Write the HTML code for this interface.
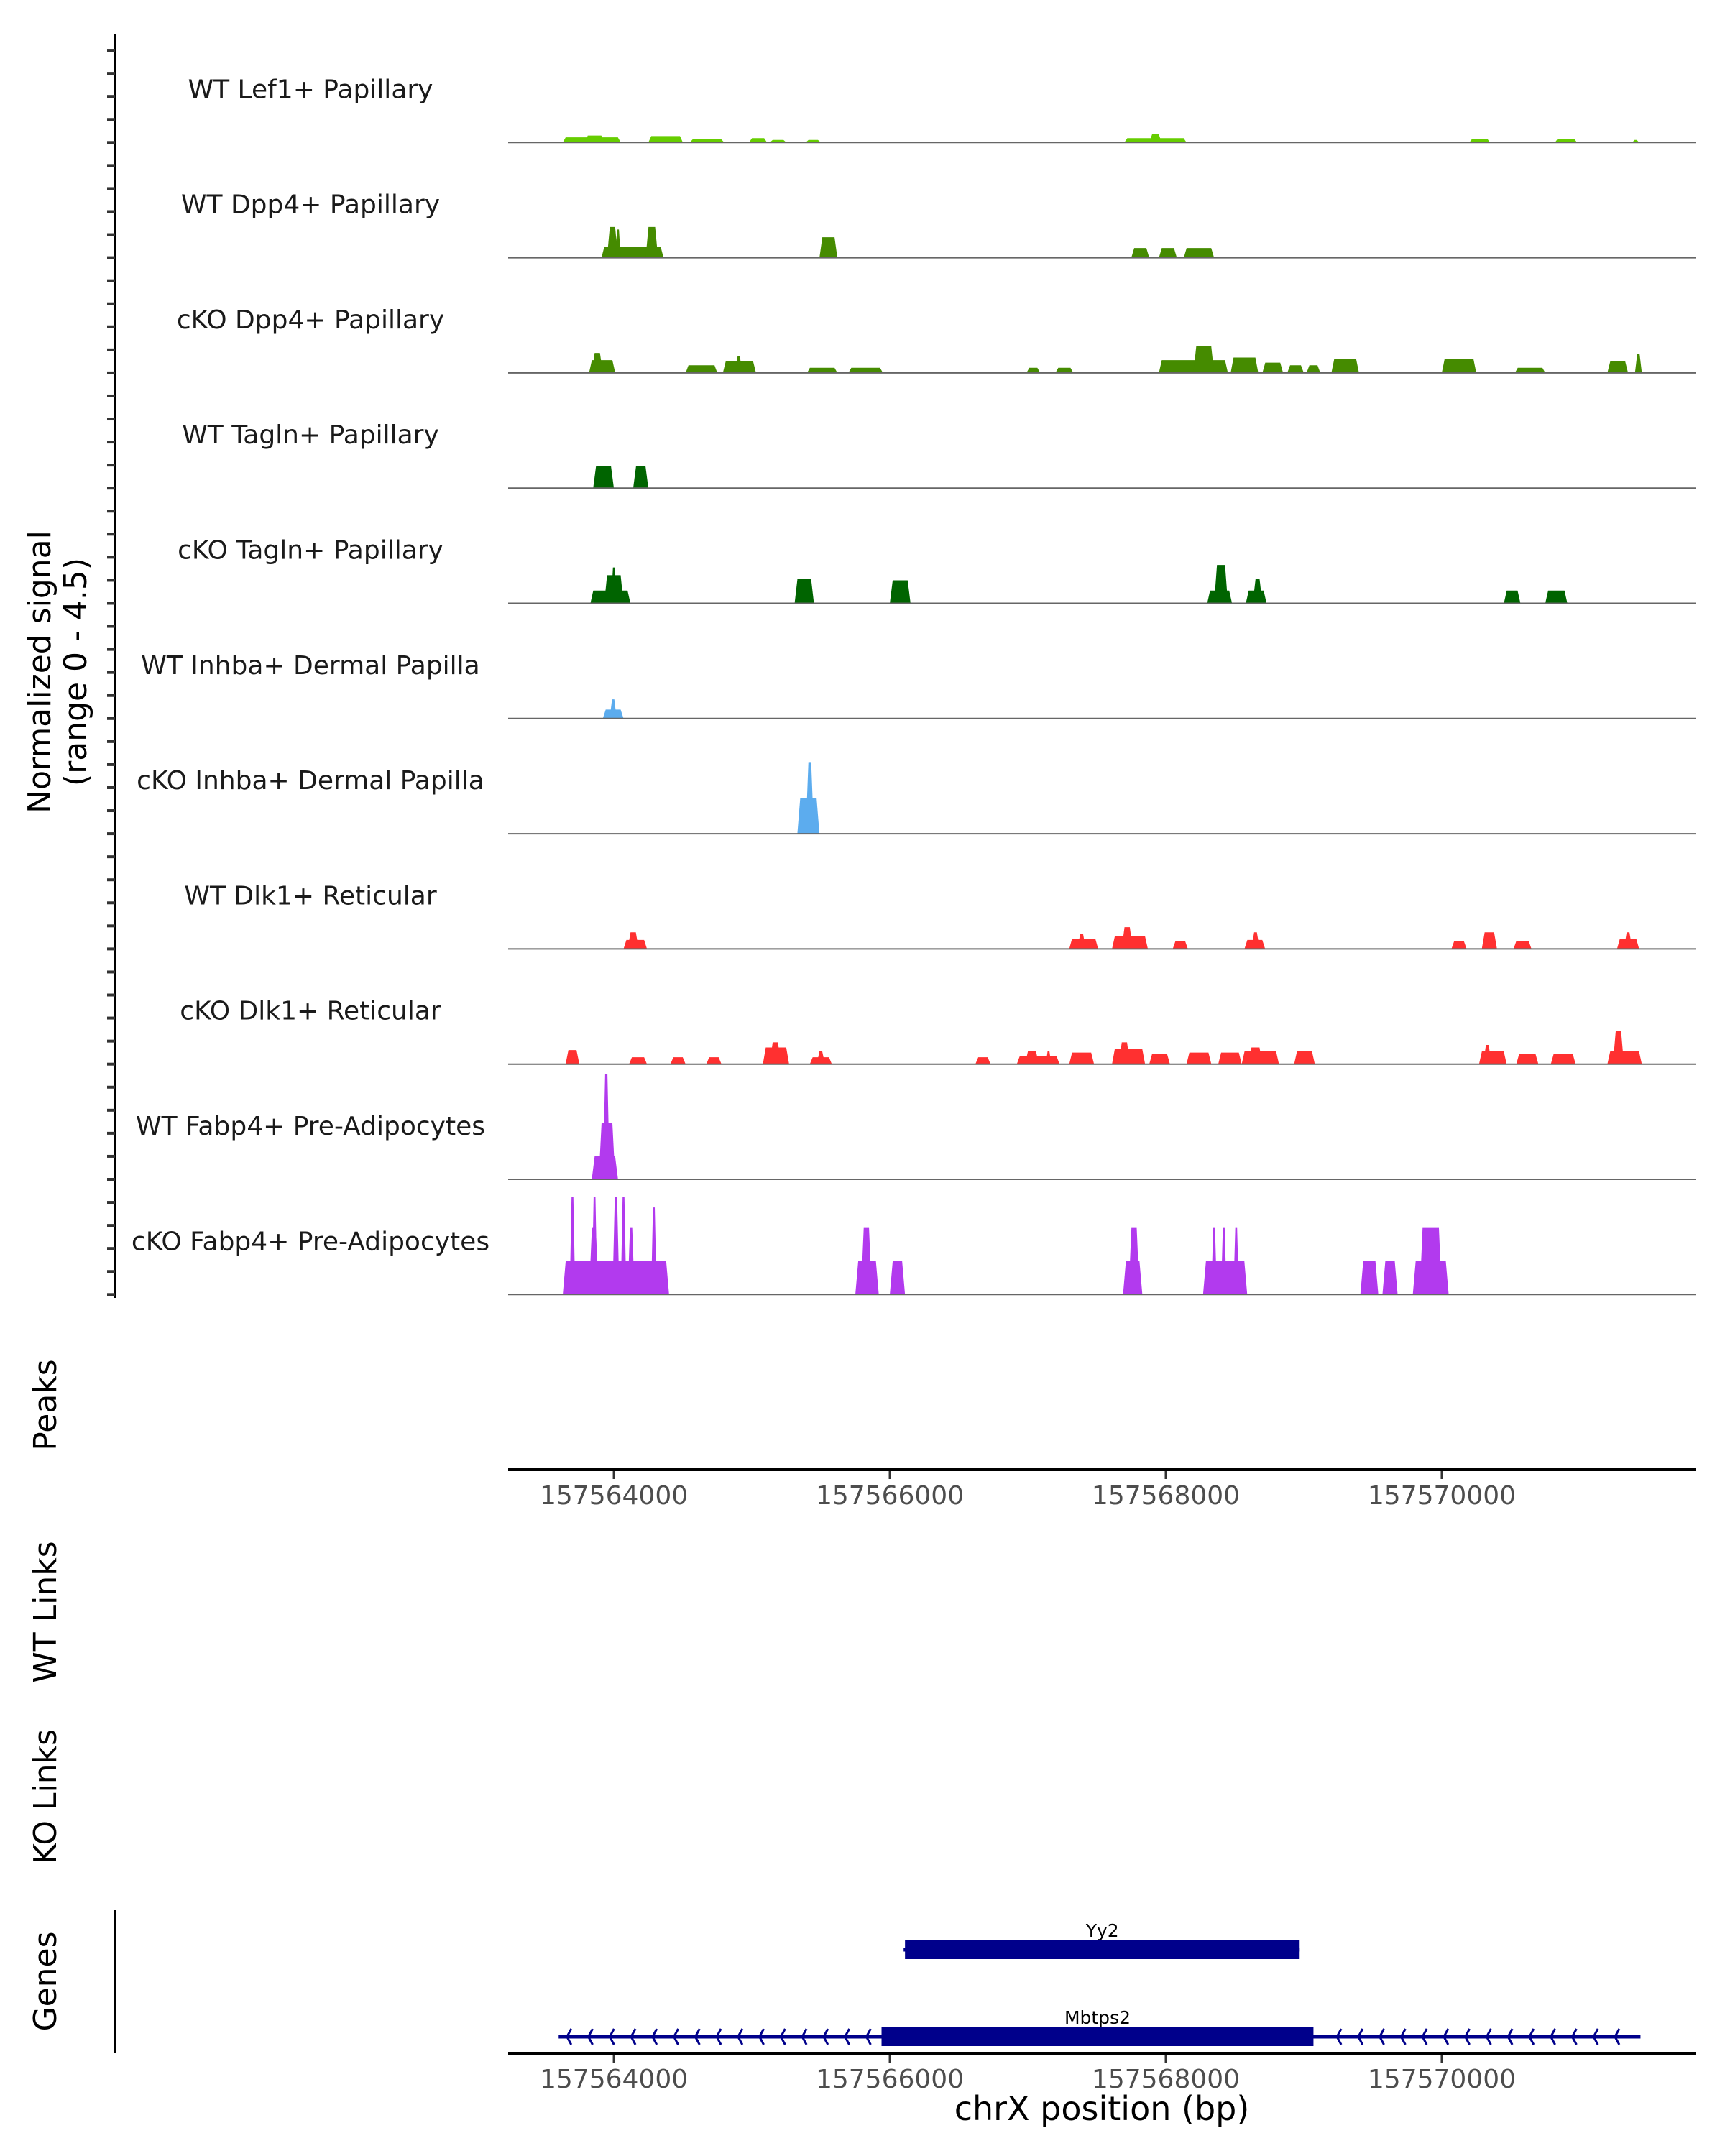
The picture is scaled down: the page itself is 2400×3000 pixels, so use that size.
<!DOCTYPE html>
<html><head><meta charset="utf-8">
<style>
html,body{margin:0;padding:0;background:#fff;}
svg{display:block;font-family:"DejaVu Sans","Liberation Sans",sans-serif;}
</style></head>
<body>
<svg id="chart" width="2400" height="3000" viewBox="0 0 2400 3000" xmlns="http://www.w3.org/2000/svg">
<rect x="0" y="0" width="2400" height="3000" fill="#fff"/>
<g id="tracks"></g>
<line x1="160" y1="48" x2="160" y2="1806" stroke="#000" stroke-width="4"/>
<g id="yticks"></g>
<text transform="translate(78,935) rotate(-90)" text-anchor="middle" font-size="44" fill="#000"><tspan x="0" dy="-8">Normalized signal</tspan><tspan x="0" dy="50">(range 0 - 4.5)</tspan></text>
<text transform="translate(78,1955) rotate(-90)" text-anchor="middle" font-size="44">Peaks</text>
<line x1="707" y1="2045" x2="2360" y2="2045" stroke="#000" stroke-width="4"/>
<g id="xticks1"></g>
<text transform="translate(78,2243) rotate(-90)" text-anchor="middle" font-size="44">WT Links</text>
<text transform="translate(78,2500) rotate(-90)" text-anchor="middle" font-size="44">KO Links</text>
<text transform="translate(78,2757) rotate(-90)" text-anchor="middle" font-size="44">Genes</text>
<line x1="160" y1="2658" x2="160" y2="2857" stroke="#000" stroke-width="4"/>
<g id="genes"></g>
<line x1="707" y1="2857" x2="2360" y2="2857" stroke="#000" stroke-width="4"/>
<g id="xticks2"></g>
<text x="1533" y="2950" text-anchor="middle" font-size="46">chrX position (bp)</text>
</svg>
<script>
const trackNames = ["WT Lef1+ Papillary","WT Dpp4+ Papillary","cKO Dpp4+ Papillary","WT Tagln+ Papillary","cKO Tagln+ Papillary","WT Inhba+ Dermal Papilla","cKO Inhba+ Dermal Papilla","WT Dlk1+ Reticular","cKO Dlk1+ Reticular","WT Fabp4+ Pre-Adipocytes","cKO Fabp4+ Pre-Adipocytes"];
const trackColors = ["#66cd00","#458b00","#458b00","#006400","#006400","#5cacee","#5cacee","#ff3030","#ff3030","#b23aee","#b23aee"];
const xTicks = [157564000,157566000,157568000,157570000];
const xDomain = [157563234,157571844];
const yMax = 4.5;
// segments per track: [start bp, end bp, signal]
const sig0 = [[157563630,157564050,0.2],[157563790,157563930,0.27],[157564250,157564500,0.25],[157564550,157564800,0.12],[157564980,157565110,0.17],[157565130,157565250,0.1],[157565390,157565500,0.1],[157567700,157568150,0.17],[157567880,157567970,0.32],[157570200,157570350,0.15],[157570820,157570980,0.15],[157571380,157571430,0.1]];
const sig1 = [[157563910,157564360,0.43],[157563950,157564030,1.2],[157564010,157564050,1.1],[157564230,157564320,1.2],[157565490,157565620,0.8],[157567750,157567880,0.38],[157567950,157568080,0.38],[157568130,157568350,0.38]];
const sig2 = [[157563820,157564010,0.5],[157563840,157563920,0.78],[157564520,157564750,0.3],[157564790,157565030,0.45],[157564880,157564930,0.65],[157565400,157565620,0.2],[157565700,157565950,0.2],[157566990,157567090,0.2],[157567200,157567330,0.2],[157567950,157568450,0.5],[157568200,157568350,1.05],[157568470,157568670,0.6],[157568700,157568850,0.4],[157568880,157569000,0.3],[157569020,157569120,0.3],[157569200,157569400,0.55],[157570000,157570250,0.55],[157570530,157570750,0.2],[157571200,157571350,0.45],[157571400,157571450,0.75]];
const sig3 = [[157563850,157564000,0.86],[157564140,157564250,0.86]];
const sig4 = [[157563830,157564120,0.5],[157563930,157564070,1.1],[157563980,157564020,1.4],[157565310,157565450,0.97],[157566000,157566150,0.9],[157566020,157566130,0.5],[157568300,157568480,0.5],[157568350,157568450,1.5],[157568580,157568730,0.5],[157568630,157568700,0.97],[157570450,157570570,0.5],[157570750,157570910,0.5]];
const sig5 = [[157563920,157564070,0.35],[157563970,157564020,0.75]];
const sig6 = [[157565330,157565490,1.4],[157565390,157565450,2.8]];
const sig7 = [[157564070,157564240,0.35],[157564100,157564180,0.65],[157567300,157567510,0.4],[157567360,157567420,0.6],[157567610,157567870,0.5],[157567680,157567760,0.85],[157568050,157568160,0.32],[157568570,157568720,0.35],[157568620,157568680,0.65],[157570070,157570180,0.32],[157570290,157570400,0.65],[157570520,157570650,0.32],[157571270,157571430,0.4],[157571320,157571380,0.65]];
const sig8 = [[157563650,157563750,0.55],[157564110,157564240,0.27],[157564410,157564520,0.27],[157564670,157564780,0.27],[157565080,157565270,0.65],[157565130,157565210,0.85],[157565420,157565580,0.27],[157565470,157565530,0.5],[157566620,157566730,0.27],[157566920,157567230,0.3],[157566980,157567080,0.5],[157567130,157567170,0.5],[157567300,157567480,0.45],[157567610,157567850,0.6],[157567660,157567740,0.85],[157567880,157568030,0.4],[157568150,157568330,0.45],[157568380,157568550,0.45],[157568550,157568820,0.5],[157568600,157568700,0.65],[157568930,157569080,0.5],[157570270,157570470,0.5],[157570300,157570360,0.75],[157570540,157570700,0.4],[157570790,157570970,0.4],[157571200,157571450,0.5],[157571240,157571320,1.3]];
const sig9 = [[157563840,157564030,0.9],[157563890,157564010,2.2],[157563920,157563970,4.1]];
const sig10 = [[157563630,157564400,1.3],[157563680,157563720,3.8],[157563820,157563890,2.6],[157563840,157563880,3.8],[157563990,157564040,3.8],[157564050,157564090,3.8],[157564100,157564150,2.6],[157564270,157564310,3.4],[157565750,157565920,1.3],[157565790,157565870,2.6],[157566000,157566110,1.3],[157567690,157567830,1.3],[157567730,157567810,2.6],[157568270,157568590,1.3],[157568330,157568370,2.6],[157568400,157568440,2.6],[157568490,157568530,2.6],[157569410,157569540,1.3],[157569570,157569680,1.3],[157569790,157570050,1.3],[157569840,157570000,2.6]];
const signals = [sig0,sig1,sig2,sig3,sig4,sig5,sig6,sig7,sig8,sig9,sig10];
const geneNames = ["Yy2","Mbtps2"];
const geneStarts = [157566100,157563600];
const geneEnds = [157568970,157571440];
const geneExonStarts = [157566110,157565940];
const geneExonEnds = [157568970,157569070];

const NS="http://www.w3.org/2000/svg";
const X0=707, X1=2360, TOP=38, TH=160.3;
function xs(bp){return X0+(bp-xDomain[0])/(xDomain[1]-xDomain[0])*(X1-X0);}
function mk(tag,attrs,parent){const e=document.createElementNS(NS,tag);for(const k in attrs)e.setAttribute(k,attrs[k]);parent.appendChild(e);return e;}
const tg=document.getElementById('tracks');
trackNames.forEach((nm,i)=>{
  const base=TOP+TH*(i+1);
  const ys=v=>base-v/yMax*TH;
  const g=mk('g',{},tg);
  
  
  const lab=mk('text',{x:432,y:base-62,'text-anchor':'middle','font-size':36,fill:'#1a1a1a'},g);
  lab.textContent=nm;
  
  
  signals[i].forEach(s=>{
    const a=xs(s[0]),b=xs(s[1]),r=Math.min(4,(b-a)/3);
    const p=mk('polygon',{points:`${a},${base} ${a+r},${ys(s[2])} ${b-r},${ys(s[2])} ${b},${base}`,fill:trackColors[i]},g);
    
    
  });
  const bl=mk('line',{x1:X0,x2:X1,y1:base,y2:base,stroke:'#666',"stroke-width":2},g);
  
  
});
const yt=document.getElementById('yticks');
for(let y=TOP+TH-4*TH/5;y<1806;y+=TH/5){
  if(y<50)continue;
  const t=mk('line',{x1:149,x2:160,y1:y,y2:y,stroke:'#333','stroke-width':4},yt);
  
  
}
[['xticks1',2045,2093],['xticks2',2857,2905]].forEach(([id,ay,ty])=>{
  const g=document.getElementById(id);
  xTicks.forEach(v=>{
    const x=xs(v);
    const l=mk('line',{x1:x,x2:x,y1:ay+2,y2:ay+13,stroke:'#333','stroke-width':3},g);
    
    
    const t=mk('text',{x:x,y:ty,'text-anchor':'middle','font-size':36,fill:'#4d4d4d'},g);
    t.textContent=v;
    
    
  });
});
const gg=document.getElementById('genes');
const geneY=[2713,2834];
geneNames.forEach((nm,i)=>{
  const y=geneY[i];
  const g=mk('g',{},gg);
  
  
  mk('line',{x1:xs(geneStarts[i]),x2:xs(geneEnds[i]),y1:y,y2:y,stroke:'#00008b','stroke-width':5},g);
  for(let bp=geneStarts[i]+60;bp<geneEnds[i]-30;bp+=155){
    if(bp>geneExonStarts[i]-40&&bp<geneExonEnds[i]+40)continue;
    const x=xs(bp);
    mk('polyline',{points:`${x+6},${y-11} ${x},${y} ${x+6},${y+11}`,fill:'none',stroke:'#00008b','stroke-width':3},g);
  }
  mk('rect',{x:xs(geneExonStarts[i]),y:y-13,width:xs(geneExonEnds[i])-xs(geneExonStarts[i]),height:26,fill:'#00008b'},g);
  const t=mk('text',{x:(xs(geneExonStarts[i])+xs(geneExonEnds[i]))/2,y:y-18,'text-anchor':'middle','font-size':25,fill:'#000'},g);
  t.textContent=nm;
  
  
});
</script>
</body></html>
